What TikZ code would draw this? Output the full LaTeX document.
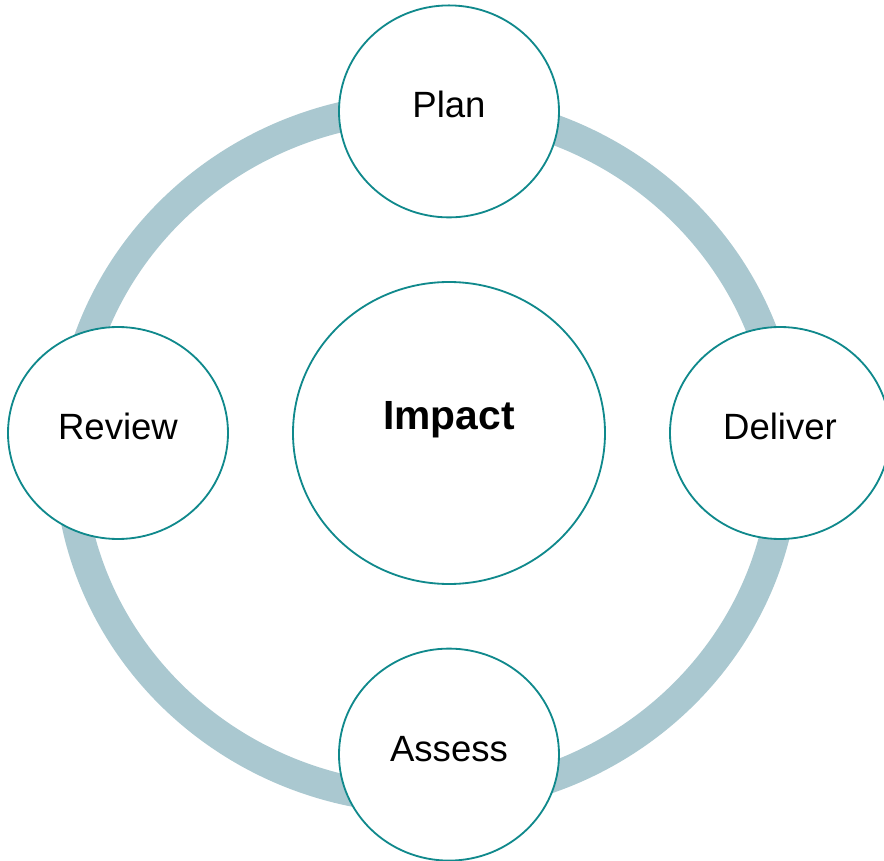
\documentclass[tikz,border=0pt]{standalone}
\usepackage{fontspec}
\setmainfont{Liberation Sans}
\usetikzlibrary{shapes.geometric, positioning}
\definecolor{ringblue}{RGB}{170,200,208}
\definecolor{stageteal}{RGB}{16,137,140}

\begin{document}
\begin{tikzpicture}[auto, node distance=8.04cm]
\tikzstyle{every node}=[ellipse, draw=stageteal, line width=1.3pt, fill=white, text=black, inner sep=0pt]
\tikzstyle{stage}=[minimum width=5.5cm, minimum height=5.3cm, font=\fontsize{26}{30}\selectfont, text height=0.5cm, text depth=0.175cm]

\useasboundingbox (-11.225,-10.7) rectangle (10.875,10.825);
\draw[ringblue, line width=0.75cm] (-0.55,-0.5) ellipse (8.95cm and 8.65cm);

\node[minimum width=7.8cm, minimum height=7.55cm, font=\bfseries\fontsize{29}{34}\selectfont, text height=0.5cm, text depth=0.7cm] (I) {Impact};
\node[stage] (P) [above of=I] {Plan};
\node[stage] (A) [below of=I] {Assess};
\node[stage, node distance=8.275cm] (R) [left of=I] {Review};
\node[stage, node distance=8.275cm] (D) [right of=I] {Deliver};

\end{tikzpicture}
\end{document}
